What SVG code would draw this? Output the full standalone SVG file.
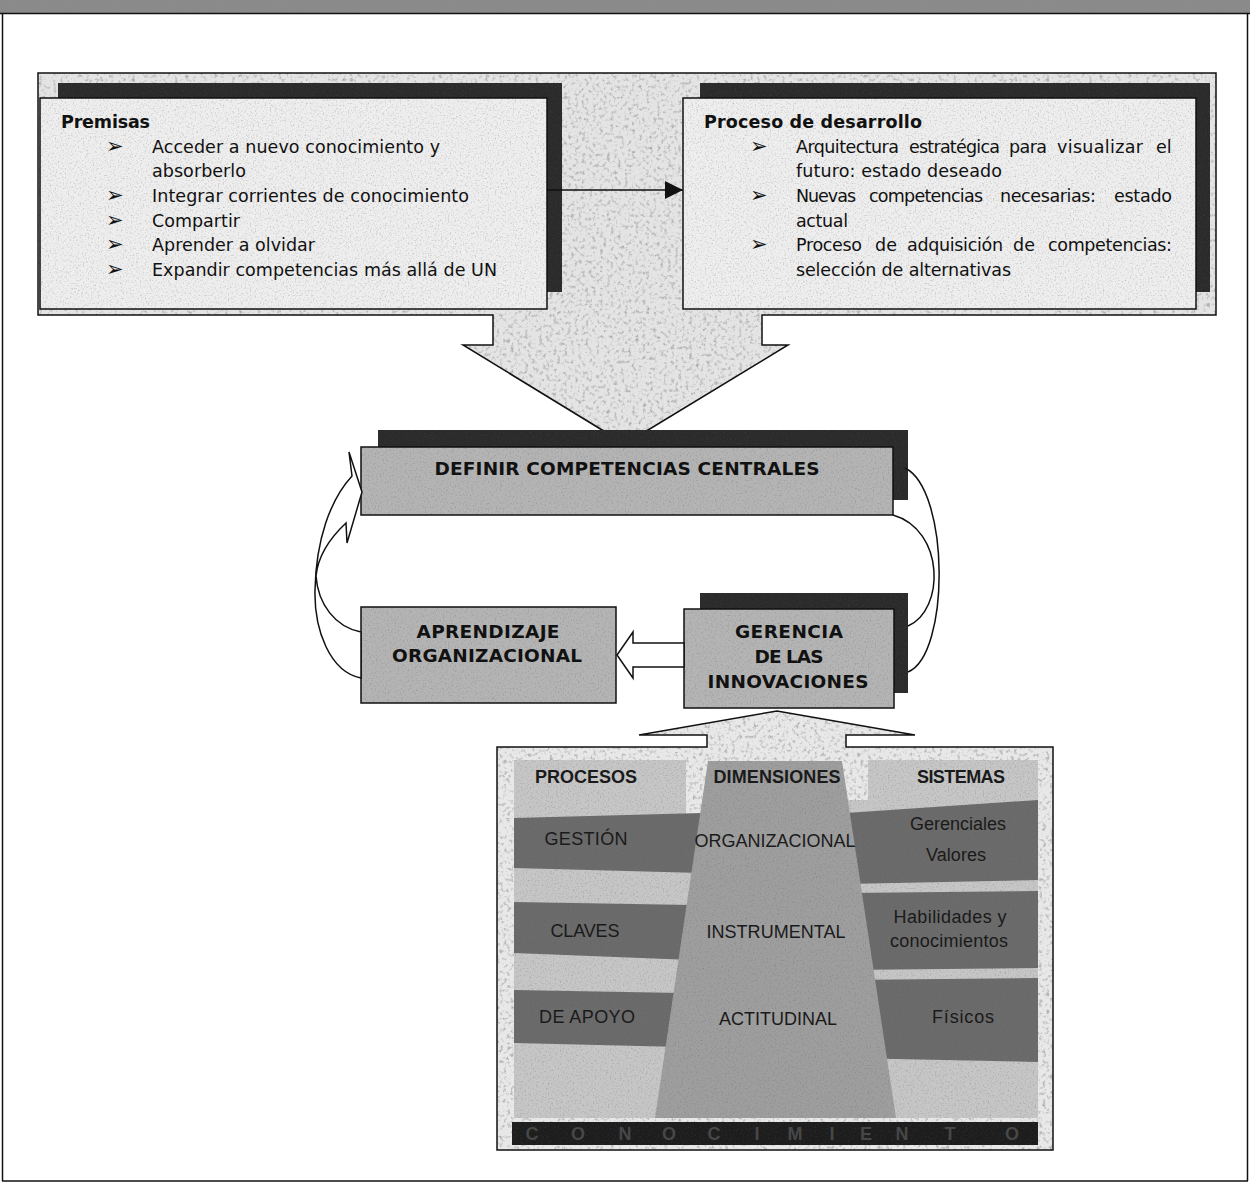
<svg xmlns="http://www.w3.org/2000/svg" width="1250" height="1183" viewBox="0 0 1250 1183">
  <style>
    .t{font-family:"DejaVu Sans","Liberation Sans",sans-serif;font-size:17.5px;fill:#111}
    .tb{font-weight:bold}
    .bul{font-family:"DejaVu Sans",sans-serif;font-size:21px;fill:#111}
    .lbl{font-family:"DejaVu Sans","Liberation Sans",sans-serif;font-weight:bold;font-size:18.5px;fill:#111;text-anchor:middle}
    .p{font-family:"Liberation Sans",Arial,sans-serif;font-size:18px;fill:#1a1a1a;text-anchor:middle}
    .ph{font-weight:bold}
    .line{fill:none;stroke:#111;stroke-width:1.5}
    .hollow{fill:#fff;stroke:#111;stroke-width:1.5}
    .shadow{fill:#2b2b2b}
    .front{fill:#eeeeee}
    .mid{fill:#b4b4b4}
    .dark{fill:#6b6b6b}
    .light{fill:#c6c6c6}
  </style>
  <defs>
    <!-- coarse granite speckle -->
    <filter id="grain" x="0" y="0" width="1" height="1" color-interpolation-filters="sRGB">
      <feTurbulence type="fractalNoise" baseFrequency="0.28" numOctaves="3" seed="4" result="n"/>
      <feColorMatrix in="n" type="matrix" values="0 0 0 0 0.55  0 0 0 0 0.55  0 0 0 0 0.55  1.9 0 0 0 -0.98" result="spots"/>
      <feComposite in="spots" in2="SourceAlpha" operator="in" result="clip"/>
      <feMerge><feMergeNode in="SourceGraphic"/><feMergeNode in="clip"/></feMerge>
    </filter>
    <!-- faint print grain -->
    <filter id="fine" x="0" y="0" width="1" height="1" color-interpolation-filters="sRGB">
      <feTurbulence type="fractalNoise" baseFrequency="0.6" numOctaves="2" seed="9" result="n"/>
      <feColorMatrix in="n" type="matrix" values="0 0 0 0 0.35  0 0 0 0 0.35  0 0 0 0 0.35  0.8 0 0 0 -0.42" result="spots"/>
      <feComposite in="spots" in2="SourceAlpha" operator="in" result="clip"/>
      <feMerge><feMergeNode in="SourceGraphic"/><feMergeNode in="clip"/></feMerge>
    </filter>
    <marker id="head" markerWidth="18" markerHeight="18" refX="18" refY="9" orient="auto" markerUnits="userSpaceOnUse">
      <path d="M0,0 L18,9 L0,18 Z" fill="#111"/>
    </marker>
    <path id="topFrame" d="M38,73 H1216 V315 H762 V345 H788 L625,444 L463,345 H493 V315 H38 Z"/>
    <path id="baseFrame" d="M497,747 H707 V735 H639 L777,711 L915,735 H846 V747 H1053 V1150 H497 Z"/>
  </defs>

  <!-- page -->
  <rect width="1250" height="1183" fill="#fff"/>
  <rect x="0" y="0" width="1250" height="13" fill="#8a8a8a" filter="url(#grain)"/>
  <path class="line" d="M0,13.5 H1250 M2.5,13 V1181 M1247.5,13 V1181 M2,1181 H1248"/>

  <!-- upper frame with the downward block arrow -->
  <g id="premisas-frame">
    <use href="#topFrame" fill="#e4e4e4" filter="url(#grain)"/>
    <use href="#topFrame" class="line"/>
  </g>

  <g id="premisas">
    <rect class="shadow" x="58" y="83" width="504" height="209" filter="url(#fine)"/>
    <rect class="front" x="40" y="98" width="507" height="211" filter="url(#fine)"/>
    <rect x="40" y="98" width="507" height="211" fill="none" stroke="#111" stroke-width="1.5"/>
    <text class="t tb" x="61" y="128" textLength="89">Premisas</text>
    <text class="bul" x="106" y="153">➢</text>
    <text class="t" x="152" y="153" textLength="288">Acceder a nuevo conocimiento y</text>
    <text class="t" x="152" y="177" textLength="94">absorberlo</text>
    <text class="bul" x="106" y="202">➢</text>
    <text class="t" x="152" y="202" textLength="317">Integrar corrientes de conocimiento</text>
    <text class="bul" x="106" y="227">➢</text>
    <text class="t" x="152" y="227" textLength="88">Compartir</text>
    <text class="bul" x="106" y="251">➢</text>
    <text class="t" x="152" y="251" textLength="163">Aprender a olvidar</text>
    <text class="bul" x="106" y="276">➢</text>
    <text class="t" x="152" y="276" textLength="345">Expandir competencias más allá de UN</text>
  </g>

  <g id="proceso-desarrollo">
    <rect class="shadow" x="700" y="83" width="510" height="209" filter="url(#fine)"/>
    <rect class="front" x="683" y="98" width="513" height="211" filter="url(#fine)"/>
    <rect x="683" y="98" width="513" height="211" fill="none" stroke="#111" stroke-width="1.5"/>
    <text class="t tb" x="704" y="128" textLength="218">Proceso de desarrollo</text>
    <text class="bul" x="750" y="153">➢</text>
    <text class="t" y="153"><tspan x="796" textLength="103">Arquitectura</tspan><tspan x="909" textLength="91">estratégica</tspan><tspan x="1009" textLength="38">para</tspan><tspan x="1057" textLength="86">visualizar</tspan><tspan x="1156">el</tspan></text>
    <text class="t" x="796" y="177" textLength="206">futuro: estado deseado</text>
    <text class="bul" x="750" y="202">➢</text>
    <text class="t" y="202"><tspan x="796" textLength="60">Nuevas</tspan><tspan x="869" textLength="114">competencias</tspan><tspan x="1000" textLength="96">necesarias:</tspan><tspan x="1114" textLength="58">estado</tspan></text>
    <text class="t" x="796" y="227" textLength="52">actual</text>
    <text class="bul" x="750" y="251">➢</text>
    <text class="t" y="251"><tspan x="796" textLength="66">Proceso</tspan><tspan x="875" textLength="22">de</tspan><tspan x="907" textLength="96">adquisición</tspan><tspan x="1013" textLength="22">de</tspan><tspan x="1048" textLength="124">competencias:</tspan></text>
    <text class="t" x="796" y="276" textLength="215">selección de alternativas</text>
  </g>

  <g id="definir">
    <rect class="shadow" x="378" y="430" width="530" height="70" filter="url(#fine)"/>
    <rect class="mid" x="361" y="447" width="532" height="68" filter="url(#fine)"/>
    <rect x="361" y="447" width="532" height="68" fill="none" stroke="#111" stroke-width="1.5"/>
    <text class="lbl" x="627" y="475" textLength="385">DEFINIR COMPETENCIAS CENTRALES</text>
  </g>

  <g id="aprendizaje">
    <rect class="mid" x="361" y="607" width="255" height="96" filter="url(#fine)"/>
    <rect x="361" y="607" width="255" height="96" fill="none" stroke="#111" stroke-width="1.5"/>
    <text class="lbl" x="488" y="638" textLength="143">APRENDIZAJE</text>
    <text class="lbl" x="487" y="662" textLength="190">ORGANIZACIONAL</text>
  </g>

  <g id="gerencia">
    <rect class="shadow" x="700" y="593" width="208" height="100" filter="url(#fine)"/>
    <rect class="mid" x="684" y="609" width="210" height="99" filter="url(#fine)"/>
    <rect x="684" y="609" width="210" height="99" fill="none" stroke="#111" stroke-width="1.5"/>
    <text class="lbl" x="789" y="638" textLength="108">GERENCIA</text>
    <text class="lbl" x="789" y="663" textLength="69">DE LAS</text>
    <text class="lbl" x="788" y="688" textLength="161">INNOVACIONES</text>
  </g>

  <!-- lower panel with the upward block arrow -->
  <g id="dimensiones">
    <use href="#baseFrame" fill="#e8e8e8" filter="url(#grain)"/>
    <use href="#baseFrame" class="line"/>
    <g filter="url(#fine)">
      <polygon class="light" points="514,760 686,760 686,815 700,815 700,1118 514,1118"/>
      <rect class="light" x="868" y="760" width="170" height="40"/>
      <rect class="light" x="846" y="800" width="192" height="318"/>
      <polygon class="dark" points="514,818 702,813 702,873 514,868"/>
      <polygon class="dark" points="514,902 692,905 692,960 514,953"/>
      <polygon class="dark" points="514,990 682,993 682,1047 514,1043"/>
      <polygon class="dark" points="846,813 1038,800 1038,880 846,884"/>
      <polygon class="dark" points="846,893 1038,891 1038,968 846,970"/>
      <polygon class="dark" points="846,980 1038,978 1038,1062 846,1058"/>
      <polygon fill="#9e9e9e" points="708,761 842,761 896,1118 655,1118"/>
      <rect fill="#1d1d1d" x="512" y="1122" width="526" height="23"/>
    </g>
    <text class="p ph" x="586" y="783" textLength="102">PROCESOS</text>
    <text class="p ph" x="777" y="783" textLength="127">DIMENSIONES</text>
    <text class="p ph" x="961" y="783" textLength="88">SISTEMAS</text>
    <text class="p" x="586" y="845" textLength="83">GESTIÓN</text>
    <text class="p" x="775" y="847" textLength="161">ORGANIZACIONAL</text>
    <text class="p" x="958" y="830" textLength="96">Gerenciales</text>
    <text class="p" x="956" y="861" textLength="60">Valores</text>
    <text class="p" x="585" y="937" textLength="69">CLAVES</text>
    <text class="p" x="776" y="938" textLength="139">INSTRUMENTAL</text>
    <text class="p" x="950" y="923" textLength="113">Habilidades y</text>
    <text class="p" x="949" y="947" textLength="118">conocimientos</text>
    <text class="p" x="587" y="1023" textLength="96">DE APOYO</text>
    <text class="p" x="778" y="1025" textLength="118">ACTITUDINAL</text>
    <text class="p" x="963" y="1023" textLength="62">Físicos</text>
    <text class="p ph" y="1140" style="fill:#474747"><tspan x="532">C</tspan><tspan x="578">O</tspan><tspan x="625">N</tspan><tspan x="669">O</tspan><tspan x="714">C</tspan><tspan x="757">I</tspan><tspan x="795">M</tspan><tspan x="832">I</tspan><tspan x="866">E</tspan><tspan x="902">N</tspan><tspan x="950">T</tspan><tspan x="1012">O</tspan></text>
  </g>

  <g id="connectors">
    <line class="line" x1="547" y1="190" x2="683" y2="190" marker-end="url(#head)"/>
    <path class="hollow" d="M684,643 H633 V632 L617,655 L633,678 V667 H684 Z"/>
    <path class="hollow" d="M361,678 C330,672 314,630 315,590 C316,540 330,500 352,476 L349,452 L362,492 L347,543 L346,523 C330,538 318,556 316,576 C318,604 335,627 361,632 Z"/>
    <path class="line" d="M905,468 C950,490 950,655 908,672"/>
    <path class="line" d="M893,515 C945,530 945,610 908,626"/>
  </g>
</svg>
